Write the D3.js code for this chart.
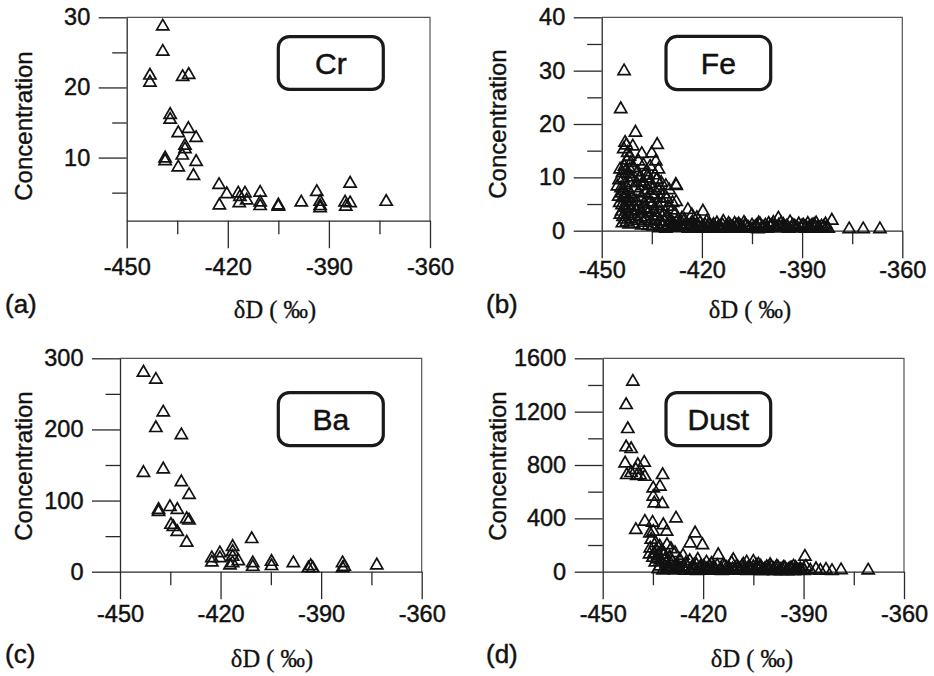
<!DOCTYPE html>
<html>
<head>
<meta charset="utf-8">
<script src="https://cdn.jsdelivr.net/npm/d3@7"></script>
<style>
  body { margin: 0; background: #fff; }
  svg { display: block; }
</style>
</head>
<body>
<svg id="fig" width="934" height="676"></svg>
<script>
// δD axis, shared by all four panels
const xDomain = [-450, -360];
const xMajorTicks = [-450, -420, -390, -360];
const xMinorTicks = [-435, -405, -375];

// Concentration axes
const crYDomain = [1, 30];
const crYMajor = [10, 20, 30];
const crYMinor = [5, 15, 25];
const feYDomain = [0, 40];
const feYMajor = [0, 10, 20, 30, 40];
const feYMinor = [5, 15, 25, 35];
const baYDomain = [0, 300];
const baYMajor = [0, 100, 200, 300];
const baYMinor = [50, 150, 250];
const dustYDomain = [0, 1600];
const dustYMajor = [0, 400, 800, 1200, 1600];
const dustYMinor = [200, 600, 1000, 1400];

// Samples: [δD (‰), concentration]
const crPoints = [
  [-439.3, 28.7], [-439.3, 25.1], [-443.1, 21.7], [-443.1, 20.7], [-433.4, 21.5], [-431.6, 21.8],
  [-437.1, 16.1], [-437.1, 15.4], [-434.7, 13.5], [-431.7, 14.1], [-429.4, 12.8], [-432.7, 11.7],
  [-432.7, 11.2], [-433.5, 10.3], [-438.6, 9.9], [-438.6, 9.5], [-429.4, 9.4], [-434.7, 8.6],
  [-430.2, 7.4], [-422.6, 6.1], [-420.3, 4.8], [-422.5, 3.2], [-416.9, 4.9], [-416.4, 4.4],
  [-414.9, 4.9], [-416.6, 3.5], [-414.4, 3.9], [-410.4, 5.0], [-410.4, 3.6], [-410.4, 3.1],
  [-405.0, 3.2], [-405.0, 3.0], [-398.2, 3.6], [-393.6, 5.1], [-392.6, 3.7], [-392.6, 2.8],
  [-392.6, 3.1], [-383.7, 6.3], [-385.2, 3.6], [-385.0, 3.0], [-383.7, 3.5], [-373.0, 3.7]
];

const fePoints = [
  [-443.3, 29.9], [-444.3, 22.8], [-439.9, 18.4], [-443.0, 16.5], [-442.6, 16.0], [-443.4, 15.3],
  [-442.2, 14.6], [-440.7, 15.8], [-441.7, 13.9], [-442.5, 13.2], [-441.3, 12.7], [-443.2, 12.0],
  [-444.5, 11.5], [-441.6, 11.5], [-442.0, 10.6], [-443.5, 9.8], [-441.0, 10.0], [-445.3, 8.3],
  [-441.5, 8.9], [-443.0, 8.6], [-442.0, 7.6], [-444.0, 7.0], [-441.3, 6.8], [-443.5, 6.1],
  [-442.4, 5.6], [-444.6, 5.2], [-441.8, 4.8], [-443.0, 4.3], [-444.0, 3.6], [-442.2, 3.2],
  [-443.6, 2.6], [-441.3, 2.2], [-442.6, 1.6], [-440.5, 1.3],
  [-444.8, 9.5], [-443.8, 10.8], [-442.8, 11.2], [-444.2, 8.0], [-443.3, 7.4], [-442.9, 6.6],
  [-444.9, 6.4], [-441.9, 5.9], [-443.9, 4.8], [-442.5, 4.0], [-441.2, 3.6], [-444.4, 3.0],
  [-443.0, 2.1], [-441.8, 1.2], [-443.8, 1.4], [-440.4, 4.6], [-440.8, 6.2], [-440.2, 2.8],
  [-439.6, 9.0], [-440.6, 11.8], [-439.0, 13.0],
  [-438.0, 14.4], [-435.0, 14.5], [-438.5, 10.1], [-436.3, 10.3], [-438.6, 9.8], [-436.1, 9.8],
  [-437.5, 12.3], [-439.3, 11.0], [-440.0, 8.0], [-437.8, 8.4], [-435.8, 8.8], [-439.0, 7.2],
  [-437.0, 7.0], [-438.2, 6.2], [-436.4, 6.0], [-439.5, 5.5], [-437.4, 5.0], [-435.5, 5.3],
  [-438.8, 4.4], [-436.6, 4.0], [-439.8, 3.8], [-437.9, 3.2], [-435.9, 3.5], [-438.4, 2.5],
  [-436.8, 2.2], [-439.2, 1.9], [-437.3, 1.5], [-435.2, 1.8], [-438.0, 1.0], [-436.0, 0.9],
  [-438.3, 3.6], [-437.2, 4.2], [-436.2, 7.6], [-435.1, 6.8], [-437.6, 9.2], [-436.7, 11.0],
  [-435.5, 12.0], [-433.0, 11.5], [-433.4, 16.1], [-433.5, 9.6], [-433.6, 9.5], [-434.5, 8.0],
  [-432.8, 7.5], [-434.2, 6.6], [-432.5, 6.1], [-434.8, 5.0], [-433.0, 4.6], [-431.8, 5.2],
  [-434.4, 3.9], [-432.6, 3.4], [-433.8, 2.8], [-431.9, 2.6], [-434.0, 2.0], [-432.3, 1.7],
  [-433.4, 1.2], [-431.5, 1.0], [-434.6, 0.8],
  [-434.0, 10.4], [-433.8, 13.0], [-432.2, 9.0], [-431.4, 6.8], [-430.8, 8.4],
  [-429.8, 7.6], [-427.8, 8.6], [-427.7, 8.4], [-430.5, 6.0], [-428.8, 5.2], [-427.7, 5.4],
  [-430.2, 4.5], [-429.0, 3.8], [-431.0, 3.5], [-428.0, 3.2], [-426.0, 2.3], [-430.6, 2.6],
  [-429.4, 2.0], [-427.4, 1.8], [-431.2, 1.6], [-428.6, 1.3], [-426.5, 1.1], [-430.0, 1.0],
  [-427.9, 0.7], [-429.2, 0.6],
  [-424.2, 3.9], [-419.7, 3.6], [-423.0, 2.9], [-425.2, 2.0], [-421.5, 2.4], [-422.8, 1.6],
  [-420.5, 1.5], [-424.5, 1.2], [-418.6, 1.7], [-423.6, 0.9], [-421.2, 0.8], [-419.5, 0.7],
  [-425.8, 0.6], [-422.0, 0.5], [-420.0, 0.4],
  [-413.6, 1.7], [-416.5, 1.1], [-415.0, 0.8], [-417.3, 0.5], [-414.2, 0.4], [-412.4, 0.9],
  [-411.0, 0.6], [-409.5, 1.0], [-408.2, 0.5], [-406.8, 0.8], [-405.5, 0.4], [-404.0, 0.7],
  [-402.6, 1.2], [-401.5, 0.5], [-410.2, 1.3], [-407.4, 1.5], [-403.2, 0.3],
  [-432.8, 0.5], [-431.8, 0.7], [-430.8, 0.4], [-429.8, 1.4], [-428.8, 0.9], [-427.0, 0.5],
  [-426.2, 1.6], [-425.0, 1.0], [-424.0, 0.4], [-423.2, 1.3], [-422.4, 0.8], [-421.6, 1.1],
  [-420.8, 0.6], [-419.0, 1.0], [-418.2, 0.6], [-417.8, 1.3], [-416.9, 0.8], [-416.0, 0.4],
  [-415.5, 1.4], [-414.8, 0.6], [-413.8, 1.0], [-413.0, 0.5], [-412.0, 1.3], [-411.5, 0.9],
  [-410.6, 0.4], [-409.8, 0.7], [-409.0, 1.2], [-408.6, 0.9], [-407.8, 0.4], [-407.0, 1.1],
  [-406.2, 0.6], [-405.0, 1.0], [-404.5, 0.5], [-403.6, 0.9], [-403.0, 1.4], [-402.0, 0.6],
  [-401.0, 1.0], [-400.4, 0.4], [-400.0, 1.3], [-399.6, 0.8], [-398.6, 1.5], [-397.6, 0.5],
  [-397.0, 1.0], [-396.0, 0.5], [-395.6, 1.1], [-394.6, 0.8], [-393.2, 0.5], [-392.2, 0.8],
  [-391.0, 1.2], [-390.4, 0.5], [-389.6, 1.0], [-388.8, 0.7], [-388.0, 0.4], [-387.0, 1.0],
  [-386.0, 0.6], [-385.8, 1.4], [-384.8, 0.4], [-383.6, 0.7], [-382.8, 0.5],
  [-397.1, 2.3], [-399.0, 1.0], [-398.2, 0.6], [-396.3, 1.4], [-395.2, 0.7], [-394.0, 0.4],
  [-392.8, 1.0], [-391.5, 0.6], [-390.0, 0.9], [-389.0, 0.4], [-387.6, 0.7], [-386.4, 1.1],
  [-385.3, 0.5], [-384.2, 0.8], [-383.0, 1.2], [-381.1, 1.9], [-382.2, 0.4], [-393.6, 1.6],
  [-388.3, 1.3],
  [-375.9, 0.3], [-371.7, 0.3], [-366.7, 0.3]
];

const baPoints = [
  [-443.0, 280], [-439.3, 270], [-437.1, 224], [-439.3, 202], [-431.7, 192], [-443.0, 139],
  [-437.1, 144], [-431.7, 126], [-429.4, 108], [-438.5, 87], [-438.5, 84], [-435.1, 91],
  [-432.9, 87], [-430.1, 74], [-429.4, 72], [-434.8, 66], [-434.1, 63], [-432.9, 56],
  [-430.1, 41], [-422.6, 19], [-422.6, 13], [-420.2, 26], [-420.2, 19], [-416.4, 35],
  [-416.4, 28], [-416.4, 21], [-416.4, 12], [-414.7, 15], [-417.2, 9], [-410.7, 46],
  [-410.4, 12], [-410.4, 7], [-404.8, 14], [-404.8, 8], [-398.3, 12], [-393.8, 5],
  [-392.5, 5], [-393.1, 8], [-383.6, 12], [-383.1, 7], [-383.6, 5], [-373.4, 9]
];

const dustPoints = [
  [-441.0, 1425], [-443.0, 1250], [-442.5, 1070], [-443.0, 933], [-441.5, 920], [-443.3, 813],
  [-439.5, 800], [-437.6, 818], [-442.8, 725], [-440.1, 763], [-439.8, 718], [-438.8, 722],
  [-437.4, 712], [-441.5, 740], [-432.1, 725], [-434.9, 625], [-432.9, 638], [-434.9, 563],
  [-434.6, 513], [-432.2, 508], [-428.1, 400], [-440.1, 313], [-437.4, 375], [-435.1, 368],
  [-431.9, 350], [-435.9, 288], [-434.9, 300], [-430.9, 300], [-422.4, 288], [-423.9, 213],
  [-420.2, 200], [-415.5, 125], [-411.0, 88], [-405.0, 75], [-389.6, 113], [-389.3, 38],
  [-386.3, 20], [-383.3, 15], [-378.8, 12], [-370.7, 10],
  [-435.5, 240], [-434.2, 215], [-433.0, 190], [-435.8, 175], [-434.0, 160], [-432.4, 150],
  [-430.8, 200], [-429.6, 170], [-431.6, 130], [-433.5, 120], [-435.0, 105], [-430.0, 110],
  [-428.4, 140], [-427.0, 90], [-432.8, 85], [-429.2, 75], [-434.3, 70], [-431.0, 60],
  [-426.0, 120], [-425.2, 60], [-428.0, 45], [-430.4, 35], [-433.0, 40], [-427.5, 30],
  [-424.0, 80], [-422.0, 50], [-420.8, 35], [-423.5, 25], [-419.0, 70], [-418.0, 40],
  [-416.6, 25], [-421.6, 90],
  [-429.6, 55], [-431.4, 90], [-433.8, 95], [-436.0, 130], [-434.6, 140],
  [-417.5, 60], [-414.0, 50], [-413.0, 30], [-412.0, 15], [-410.0, 40], [-409.0, 20],
  [-408.0, 55], [-406.5, 30], [-405.5, 15], [-404.0, 45], [-403.0, 25], [-402.0, 10],
  [-401.0, 35], [-400.0, 50], [-399.0, 20], [-398.0, 40], [-397.0, 15], [-396.0, 30],
  [-395.0, 10], [-394.0, 25], [-393.0, 40], [-392.0, 15], [-391.0, 20], [-390.5, 8],
  [-411.5, 65], [-407.0, 70], [-403.5, 55], [-419.5, 15], [-415.0, 10], [-388.0, 10],
  [-385.0, 8], [-381.5, 6],
  [-433.4, 20], [-432.0, 10], [-431.0, 25], [-430.0, 15], [-429.0, 30], [-428.5, 10],
  [-427.8, 55], [-426.8, 20], [-426.0, 40], [-425.5, 8], [-424.6, 30], [-423.8, 12],
  [-423.0, 45], [-422.5, 20], [-421.8, 6], [-421.0, 25], [-420.2, 12], [-419.8, 40],
  [-418.8, 22], [-418.2, 8], [-417.0, 30], [-416.2, 12], [-415.8, 45], [-414.8, 20],
  [-414.4, 6], [-413.6, 40], [-412.8, 10], [-412.4, 28], [-411.2, 18], [-410.6, 8],
  [-409.6, 30], [-408.8, 8], [-408.4, 40], [-407.6, 18], [-406.8, 6], [-406.0, 25],
  [-405.0, 35], [-404.4, 8], [-403.8, 20], [-402.8, 40], [-402.4, 5], [-401.6, 18],
  [-400.8, 8], [-400.4, 28], [-399.6, 35], [-398.8, 5], [-398.4, 25], [-397.6, 30],
  [-396.8, 5], [-396.4, 18], [-395.6, 28], [-394.8, 5], [-394.4, 15], [-393.6, 25],
  [-392.8, 5], [-392.4, 30], [-391.6, 8], [-391.0, 12], [-390.0, 18], [-389.8, 6]
];

// Panel layout (pixels)
const panels = [
  { name: "Cr", tag: "(a)", points: crPoints, yDomain: crYDomain, yMajor: crYMajor, yMinor: crYMinor,
    left: 126.7, right: 430, top: 17.3, bottom: 220.7, xPad: 10,
    box: [278.3, 36.7, 105, 52.6], tagXY: [5, 313], titleXY: [275, 318], yTitleXY: [32, 126] },
  { name: "Fe", tag: "(b)", points: fePoints, yDomain: feYDomain, yMajor: feYMajor, yMinor: feYMinor,
    left: 601.7, right: 902.3, top: 17.3, bottom: 230.7, xPad: 3.5,
    box: [666, 36.3, 104.7, 53.4], tagXY: [486, 313], titleXY: [750, 318], yTitleXY: [506, 124] },
  { name: "Ba", tag: "(c)", points: baPoints, yDomain: baYDomain, yMajor: baYMajor, yMinor: baYMinor,
    left: 120, right: 421.7, top: 358.3, bottom: 571.7, xPad: 6,
    box: [278.3, 392.7, 105, 53], tagXY: [5, 663], titleXY: [272, 667], yTitleXY: [32, 466] },
  { name: "Dust", tag: "(d)", points: dustPoints, yDomain: dustYDomain, yMajor: dustYMajor, yMinor: dustYMinor,
    left: 602.7, right: 904, top: 358.3, bottom: 571.7, xPad: 6,
    box: [666, 392.7, 104.7, 53], tagXY: [486, 663], titleXY: [752, 667], yTitleXY: [506, 466] }
];

const svg = d3.select("#fig");
svg.append("rect").attr("width", 934).attr("height", 676).attr("fill", "#fff");

const sans = "'Liberation Sans', Arial, Helvetica, sans-serif";
const serif = "'Liberation Serif', 'Times New Roman', Times, serif";
const axisColor = "#2a2a2a";
const ink = "#111";

// a thin outline of the same colour gives the heavier printed look of the labels
function heavy(sel, w) {
  sel.attr("fill", ink).attr("stroke", ink).attr("stroke-width", w).attr("paint-order", "stroke");
}

function styleAxis(sel) {
  sel.attr("font-family", sans).attr("font-size", 23.5);
  sel.selectAll("path.domain").attr("stroke", axisColor).attr("stroke-width", 1.3);
  sel.selectAll(".tick line").attr("stroke", axisColor).attr("stroke-width", 1.3);
  sel.selectAll(".tick text").call(heavy, 0.45);
}

function drawPanel(p) {
  const g = svg.append("g");
  const x = d3.scaleLinear().domain(xDomain).range([p.left, p.right]);
  const y = d3.scaleLinear().domain(p.yDomain).range([p.bottom, p.top]);

  // top and right frame
  g.append("path")
    .attr("d", `M${p.left},${p.top}H${p.right}V${p.bottom}`)
    .attr("fill", "none").attr("stroke", "#555").attr("stroke-width", 1.2);

  // δD axis: long labelled ticks and short minor ticks
  g.append("g").attr("transform", `translate(0,${p.bottom})`)
    .call(d3.axisBottom(x).tickValues(xMajorTicks).tickSize(27.5).tickSizeOuter(0)
      .tickPadding(p.xPad).tickFormat(d => String(d)))
    .call(styleAxis);
  g.append("g").attr("transform", `translate(0,${p.bottom})`)
    .call(d3.axisBottom(x).tickValues(xMinorTicks).tickSize(13.5).tickSizeOuter(0).tickFormat(""))
    .call(sel => sel.select("path.domain").remove())
    .call(styleAxis);

  // concentration axis
  g.append("g").attr("transform", `translate(${p.left},0)`)
    .call(d3.axisLeft(y).tickValues(p.yMajor).tickSize(28).tickSizeOuter(0)
      .tickPadding(8.5).tickFormat(d => String(d)))
    .call(styleAxis);
  g.append("g").attr("transform", `translate(${p.left},0)`)
    .call(d3.axisLeft(y).tickValues(p.yMinor).tickSize(14.5).tickSizeOuter(0).tickFormat(""))
    .call(sel => sel.select("path.domain").remove())
    .call(styleAxis);

  // samples as open triangles
  g.append("g").selectAll("path")
    .data(p.points)
    .join("path")
    .attr("d", d3.symbol(d3.symbolTriangle, 64))
    .attr("transform", d => `translate(${x(d[0])},${y(d[1])})`)
    .attr("fill", "none")
    .attr("stroke", ink)
    .attr("stroke-width", 1.7);

  // element name in a rounded box
  const [bx, by, bw, bh] = p.box;
  g.append("rect")
    .attr("x", bx).attr("y", by).attr("width", bw).attr("height", bh)
    .attr("rx", 11).attr("ry", 11)
    .attr("fill", "#fff").attr("stroke", "#1a1a1a").attr("stroke-width", 3.2);
  g.append("text")
    .attr("x", bx + bw / 2).attr("y", by + bh / 2)
    .attr("dy", "0.35em")
    .attr("text-anchor", "middle")
    .attr("font-family", sans).attr("font-size", 30)
    .call(heavy, 0.5)
    .text(p.name);

  // axis titles and panel tag
  g.append("text")
    .attr("transform", `translate(${p.yTitleXY[0]},${p.yTitleXY[1]}) rotate(-90)`)
    .attr("text-anchor", "middle")
    .attr("font-family", sans).attr("font-size", 24)
    .call(heavy, 0.4)
    .text("Concentration");
  g.append("text")
    .attr("x", p.titleXY[0]).attr("y", p.titleXY[1])
    .attr("text-anchor", "middle")
    .attr("font-family", serif).attr("font-size", 24.5)
    .call(heavy, 0.3)
    .text("δD ( ‰)");
  g.append("text")
    .attr("x", p.tagXY[0]).attr("y", p.tagXY[1])
    .attr("font-family", sans).attr("font-size", 26)
    .call(heavy, 0.45)
    .text(p.tag);
}

panels.forEach(drawPanel);
</script>
</body>
</html>
